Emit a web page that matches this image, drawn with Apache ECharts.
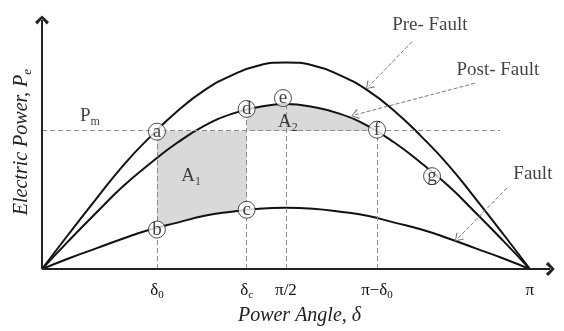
<!DOCTYPE html>
<html>
<head>
<meta charset="utf-8">
<script src="https://cdn.jsdelivr.net/npm/echarts@6/dist/echarts.min.js"></script>
<style>
  html, body { margin: 0; padding: 0; background: #fff; }
  #chart { width: 564px; height: 331px; }
</style>
</head>
<body>
<div id="chart"></div>
<script>
// power angle in degrees, electric power in p.u.-like units
const angles = [0, 10, 20, 30, 40, 50, 60, 70, 80, 90, 100, 110, 120, 130, 140, 150, 160, 170, 180]
const preFault = [0, 0.36, 0.71, 1.05, 1.34, 1.60, 1.81, 1.96, 2.06, 2.09, 2.06, 1.96, 1.81, 1.60, 1.34, 1.05, 0.71, 0.36, 0]
const postFault = [0, 0.29, 0.57, 0.84, 1.07, 1.28, 1.45, 1.57, 1.64, 1.67, 1.64, 1.57, 1.45, 1.28, 1.07, 0.84, 0.57, 0.29, 0]
const fault = [0, 0.11, 0.21, 0.31, 0.40, 0.47, 0.54, 0.58, 0.61, 0.62, 0.61, 0.58, 0.54, 0.47, 0.40, 0.31, 0.21, 0.11, 0]

const pm = 1.40
const tickValues = [42.4, 75.5, 90, 123.6, 180]
const tickLabels = ['{t|δ}{s|0}', '{t|δ}{s|c}', '{t|π/2}', '{t|π−δ}{s|0}', '{t|π}']

// shaded areas A1 / A2 (outline points)
const areaA1 = [[42.4, 1.40], [42.4, 0.41], [50, 0.47], [60, 0.54], [70, 0.58], [75.5, 0.60], [75.5, 1.40]]
const areaA2 = [[75.5, 1.40], [75.5, 1.62], [80, 1.64], [90, 1.67], [100, 1.64], [110, 1.57], [120, 1.45], [123.6, 1.40]]

// dashed guide lines
const guides = [
  [[0, 1.40], [169, 1.40]],
  [[42.4, 0], [42.4, 1.40]],
  [[75.5, 0], [75.5, 1.62]],
  [[90, 0], [90, 1.67]],
  [[123.6, 0], [123.6, 1.40]]
]

// axis arrows (drawn as lines so the open arrow heads match)
const axes = [
  [[0, 0], [187.5, 0]],
  [[0, 0], [0, 2.52]]
]

// callout arrows
const arrows = [
  [[136.5, 2.30], [120.6, 1.85]],
  [[159.7, 1.88], [115.5, 1.56]],
  [[171.5, 0.82], [153.4, 0.31]]
]

// operating points
const pointNames = ['a', 'b', 'c', 'd', 'e', 'f', 'g']
const pointX = [42.4, 42.4, 75.5, 75.5, 88.9, 123.6, 143.9]
const pointY = [1.39, 0.40, 0.60, 1.62, 1.73, 1.41, 0.94]

// free text
const textNames = ['{n|Pre- Fault}', '{n|Post- Fault}', '{n|Fault}', '{n|P}{s|m}', '{n|A}{s|1}', '{n|A}{s|2}']
const textX = [143.1, 168.2, 181.1, 17.7, 55.0, 90.7]
const textY = [2.47, 2.01, 0.96, 1.55, 0.94, 1.49]

const serif = '"Liberation Serif", "Times New Roman", serif'
const chevron = 'path://M50,0 L100,72 L84,100 L50,40 L16,100 L0,72 Z'
const thinChevron = 'path://M50,0 L100,86 L92,100 L50,18 L8,100 L0,86 Z'
const subRich = {
  n: { fontSize: 19, fontFamily: serif, color: '#111', lineHeight: 24 },
  s: { fontSize: 12, fontFamily: serif, color: '#111', lineHeight: 12, verticalAlign: 'bottom' }
}

const chart = echarts.init(document.getElementById('chart'))

const curve = (vals) => ({
  type: 'line',
  data: angles.map((a, i) => [a, vals[i]]),
  smooth: true,
  showSymbol: false,
  lineStyle: { color: '#111', width: 2 },
  z: 4
})

chart.setOption({
  animation: false,
  grid: { left: 42, right: 7, top: 15, bottom: 59 },
  xAxis: {
    type: 'value',
    min: 0,
    max: 190,
    name: 'Power Angle, δ',
    nameLocation: 'middle',
    nameGap: 34,
    nameTextStyle: { fontFamily: serif, fontStyle: 'italic', fontSize: 20, color: '#222' },
    axisLine: { show: false },
    axisTick: { show: false },
    splitLine: { show: false },
    axisLabel: {
      customValues: tickValues,
      margin: 10,
      formatter: (v) => tickLabels[tickValues.indexOf(v)] || '',
      rich: {
        t: { fontSize: 17, fontFamily: serif, color: '#111', lineHeight: 22 },
        s: { fontSize: 11, fontFamily: serif, color: '#111', lineHeight: 11, verticalAlign: 'bottom' }
      }
    }
  },
  yAxis: {
    type: 'value',
    min: 0,
    max: 2.57,
    name: '{n|Electric Power, P}{s|e}',
    nameLocation: 'middle',
    nameGap: 8,
    nameRotate: 90,
    nameTextStyle: {
      rich: {
        n: { fontFamily: serif, fontStyle: 'italic', fontSize: 20, color: '#222', lineHeight: 24 },
        s: { fontFamily: serif, fontStyle: 'italic', fontSize: 13, color: '#222', lineHeight: 13, verticalAlign: 'bottom' }
      }
    },
    axisLine: { show: false },
    axisTick: { show: false },
    axisLabel: { show: false },
    splitLine: { show: false }
  },
  series: [
    {
      type: 'custom',
      data: [0, 1],
      z: 1,
      renderItem: (params, api) => {
        const pts = (params.dataIndex === 0 ? areaA1 : areaA2).map(p => api.coord(p))
        return { type: 'polygon', shape: { points: pts }, style: { fill: '#d9d9d9' } }
      }
    },
    {
      type: 'line',
      data: [],
      z: 2,
      markLine: {
        silent: true,
        symbol: 'none',
        label: { show: false },
        lineStyle: { color: '#8c8c8c', width: 1, type: [5, 3] },
        data: guides.map(g => [{ coord: g[0] }, { coord: g[1] }])
      }
    },
    {
      type: 'line',
      data: [],
      z: 7,
      markLine: {
        silent: true,
        symbol: ['none', chevron],
        symbolSize: [14, 9],
        label: { show: false },
        lineStyle: { color: '#222', width: 2, type: 'solid' },
        data: axes.map(g => [{ coord: g[0] }, { coord: g[1] }])
      }
    },
    curve(preFault),
    curve(postFault),
    curve(fault),
    {
      type: 'line',
      data: [],
      z: 3,
      markLine: {
        silent: true,
        symbol: ['none', thinChevron],
        symbolSize: [10, 8],
        label: { show: false },
        lineStyle: { color: '#777', width: 1, type: [4, 2] },
        data: arrows.map(g => [{ coord: g[0] }, { coord: g[1] }])
      }
    },
    {
      type: 'scatter',
      data: textNames.map((n, i) => ({ name: n, value: [textX[i], textY[i]] })),
      symbolSize: 1,
      itemStyle: { color: 'transparent' },
      label: { show: true, position: 'inside', formatter: '{b}', rich: subRich },
      z: 5
    },
    {
      type: 'scatter',
      data: pointNames.map((n, i) => ({ name: n, value: [pointX[i], pointY[i]] })),
      symbol: 'circle',
      symbolSize: 17,
      itemStyle: { color: '#fff', borderColor: '#222', borderWidth: 1 },
      label: { show: true, position: 'inside', formatter: '{b}', fontFamily: serif, fontSize: 19, color: '#111', padding: [0, 0, 2, 0] },
      z: 6
    }
  ]
})
</script>
</body>
</html>
